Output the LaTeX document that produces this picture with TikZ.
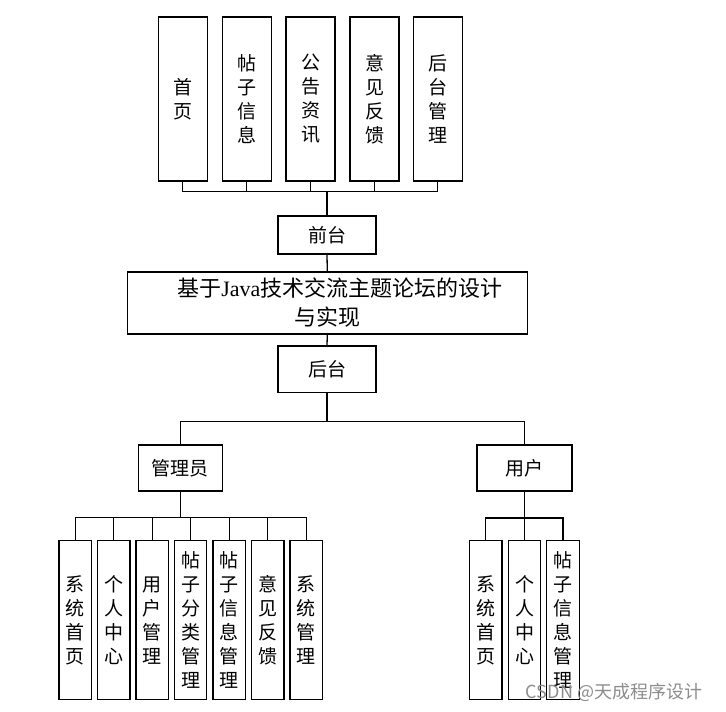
\documentclass[tikz,border=0pt]{standalone}
\usepackage{fontspec}
\setmainfont{Noto Sans CJK SC}
\newfontfamily\lat{Liberation Serif}
\begin{document}
\begin{tikzpicture}[x=1pt,y=-1pt,
  box/.style={draw=black,line width=1.3pt,inner sep=0pt,align=center,font=\fontsize{19}{24}\selectfont},
  topbox/.style={box,minimum width=49pt,minimum height=164pt},
  midbox/.style={box,minimum height=46pt,font=\fontsize{19}{24}\selectfont},
  lowbox/.style={box,minimum width=32.5pt,minimum height=159pt},
  conn/.style={line width=1.3pt}]
\useasboundingbox (0,0) rectangle (726,712);
% top boxes
\node[topbox] (t1) at (182.8,99) {首\\页};
\node[topbox] (t2) at (246.7,99) {帖\\子\\信\\息};
\node[topbox] (t3) at (310.5,99) {公\\告\\资\\讯};
\node[topbox] (t4) at (374.5,99) {意\\见\\反\\馈};
\node[topbox] (t5) at (437.8,99) {后\\台\\管\\理};
% center column
\node[box,minimum width=98pt,minimum height=38pt] (qt) at (327,235) {前台};
\node[box,minimum width=400pt,minimum height=62pt,font=\fontsize{22}{29}\selectfont] (main) at (327.3,303)
  {\hspace*{25pt}基于{\lat Java}技术交流主题论坛的设计\\与实现};
\node[box,minimum width=98pt,minimum height=46.7pt] (ht) at (327,369.3) {后台};
% second level
\node[midbox,minimum width=84pt] (gly) at (180.3,468) {管理员};
\node[midbox,minimum width=95pt] (yh) at (524.5,468) {用户};
% admin children
\node[lowbox] (a1) at (75.3,620.3) {系\\统\\首\\页};
\node[lowbox] (a2) at (113.7,620.3) {个\\人\\中\\心};
\node[lowbox] (a3) at (152.2,620.3) {用\\户\\管\\理};
\node[lowbox] (a4) at (190.5,620.3) {帖\\子\\分\\类\\管\\理};
\node[lowbox] (a5) at (229.2,620.3) {帖\\子\\信\\息\\管\\理};
\node[lowbox] (a6) at (267.8,620.3) {意\\见\\反\\馈};
\node[lowbox] (a7) at (306.3,620.3) {系\\统\\管\\理};
% user children
\node[lowbox] (b1) at (485.8,620.3) {系\\统\\首\\页};
\node[lowbox] (b2) at (524.5,620.3) {个\\人\\中\\心};
\node[lowbox] (b3) at (563,620.3) {帖\\子\\信\\息\\管\\理};
% buses
\coordinate (topbus) at (327,191.7);
\coordinate (midbus) at (327,421.7);
\coordinate (lbus) at (180.3,517.3);
\coordinate (rbus) at (524.5,518);
% top connectors
\foreach \n in {t1,t2,t3,t4,t5} \draw[conn] (\n.south) -- (\n.south |- topbus);
\draw[conn] (t1.south |- topbus) -- (t5.south |- topbus);
\draw[conn] (topbus) -- (qt.north);
\draw[conn] (qt.south) -- (main.north);
\draw[conn] (main.south) -- (ht.north);
\draw[conn] (ht.south) -- (midbus);
\draw[conn] (gly.north) |- (midbus) -| (yh.north);
% admin connectors
\draw[conn] (gly.south) -- (lbus);
\draw[conn] (a1.north) |- (lbus) -| (a7.north);
\foreach \n in {a2,a3,a4,a5,a6} \draw[conn] (\n.north) -- (\n.north |- lbus);
% user connectors
\draw[conn] (yh.south) -- (b2.north);
\draw[conn] (b1.north) |- (rbus) -| (b3.north);
% watermark
\node[text=black!45,font=\fontsize{18}{20}\selectfont,inner sep=0pt] (wm) at (614,692) {CSDN @天成程序设计};
\end{tikzpicture}
\end{document}
